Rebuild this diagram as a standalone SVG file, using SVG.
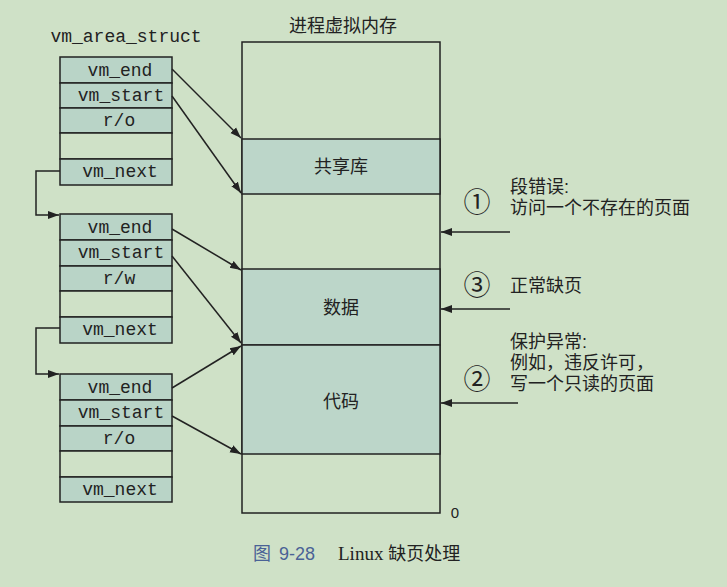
<svg xmlns="http://www.w3.org/2000/svg" width="727" height="587" viewBox="0 0 727 587">
<style>
.bg{fill:#cfe1c7}
.cell{fill:#b9d4c7;stroke:#222;stroke-width:1.5}
.empty{fill:#cfe1c7;stroke:#222;stroke-width:1.5}
.mem{fill:#cfe1c7;stroke:#222;stroke-width:1.5}
.memsh{fill:#bcd6c9;stroke:#222;stroke-width:1.5}
.mono{font-family:"Liberation Mono","DejaVu Sans Mono",monospace;font-size:18px;fill:#222;text-anchor:middle}
.cjk{font-family:"Liberation Sans","Noto Sans CJK SC",sans-serif;font-size:18px;fill:#222}
.num{font-family:"Noto Sans CJK SC",sans-serif;font-size:27px;fill:#222;text-anchor:middle}
.mid{text-anchor:middle}
.conn{fill:none;stroke:#222;stroke-width:1.5}
</style>
<defs>
<marker id="ah" viewBox="0 0 11 10" refX="11" refY="5" markerWidth="11" markerHeight="10" markerUnits="userSpaceOnUse" orient="auto">
<path d="M0,1 L11,5 L0,9 z" fill="#222"/>
</marker>
</defs>
<rect class="bg" x="0" y="0" width="727" height="587"/>

<text class="mono" x="126" y="42">vm_area_struct</text>

<g id="struct1">
<rect class="cell" x="60" y="57" width="112" height="26"/>
<rect class="cell" x="60" y="83" width="112" height="25"/>
<rect class="cell" x="60" y="108" width="112" height="25"/>
<rect class="empty" x="60" y="133" width="112" height="26"/>
<rect class="cell" x="60" y="159" width="112" height="26"/>
<text class="mono" x="120" y="76">vm_end</text>
<text class="mono" x="121" y="101">vm_start</text>
<text class="mono" x="119" y="126">r/o</text>
<text class="mono" x="120" y="177">vm_next</text>
</g>

<g id="struct2">
<rect class="cell" x="60" y="214" width="112" height="26"/>
<rect class="cell" x="60" y="240" width="112" height="26"/>
<rect class="cell" x="60" y="266" width="112" height="25"/>
<rect class="empty" x="60" y="291" width="112" height="26"/>
<rect class="cell" x="60" y="317" width="112" height="26"/>
<text class="mono" x="120" y="233">vm_end</text>
<text class="mono" x="121" y="258">vm_start</text>
<text class="mono" x="119" y="284">r/w</text>
<text class="mono" x="120" y="335">vm_next</text>
</g>

<g id="struct3">
<rect class="cell" x="60" y="374" width="112" height="26"/>
<rect class="cell" x="60" y="400" width="112" height="26"/>
<rect class="cell" x="60" y="426" width="112" height="25"/>
<rect class="empty" x="60" y="451" width="112" height="26"/>
<rect class="cell" x="60" y="477" width="112" height="25"/>
<text class="mono" x="120" y="393">vm_end</text>
<text class="mono" x="121" y="418">vm_start</text>
<text class="mono" x="119" y="444">r/o</text>
<text class="mono" x="120" y="495">vm_next</text>
</g>

<g id="memory">
<text class="cjk mid" x="343" y="32">进程虚拟内存</text>
<rect class="mem" x="242" y="42" width="198" height="471"/>
<rect class="memsh" x="242" y="139" width="198" height="55"/>
<rect class="memsh" x="242" y="269" width="198" height="76"/>
<rect class="memsh" x="242" y="345" width="198" height="109"/>
<text class="cjk mid" x="341" y="173">共享库</text>
<text class="cjk mid" x="341" y="314">数据</text>
<text class="cjk mid" x="341" y="408">代码</text>
<text x="455" y="518" style="font-family:'Liberation Sans',sans-serif;font-size:15px;fill:#222" text-anchor="middle">0</text>
</g>

<g id="annotations">
<text class="num" x="477" y="212">①</text>
<text class="num" x="477" y="295">③</text>
<text class="num" x="477" y="389">②</text>
<text class="cjk" x="510" y="193">段错误:</text>
<text class="cjk" x="510" y="214">访问一个不存在的页面</text>
<text class="cjk" x="510" y="292">正常缺页</text>
<text class="cjk" x="510" y="348">保护异常:</text>
<text class="cjk" x="510" y="369">例如，违反许可，</text>
<text class="cjk" x="510" y="390">写一个只读的页面</text>
</g>

<g id="connectors">
<line class="conn" x1="172" y1="69" x2="241" y2="138" marker-end="url(#ah)"/>
<line class="conn" x1="172" y1="96" x2="241" y2="193" marker-end="url(#ah)"/>
<line class="conn" x1="172" y1="229" x2="241" y2="270" marker-end="url(#ah)"/>
<line class="conn" x1="172" y1="256" x2="241" y2="343" marker-end="url(#ah)"/>
<line class="conn" x1="172" y1="388" x2="241" y2="346" marker-end="url(#ah)"/>
<line class="conn" x1="172" y1="416" x2="241" y2="454" marker-end="url(#ah)"/>
<polyline class="conn" points="60,171 36,171 36,215 59,215" marker-end="url(#ah)"/>
<polyline class="conn" points="60,328 36,328 36,374 59,374" marker-end="url(#ah)"/>
<line class="conn" x1="510" y1="232" x2="441" y2="232" marker-end="url(#ah)"/>
<line class="conn" x1="510" y1="309" x2="441" y2="309" marker-end="url(#ah)"/>
<line class="conn" x1="518" y1="403" x2="441" y2="403" marker-end="url(#ah)"/>
</g>

<g id="caption">
<text x="253" y="560" style="font-family:'Noto Sans CJK SC',sans-serif;font-size:18px;fill:#4a6296">图</text>
<text x="279" y="560" style="font-family:'Liberation Sans',sans-serif;font-size:18px;fill:#4a6296">9-28</text>
<text x="338" y="560" style="font-family:'Liberation Serif',serif;font-size:19px;fill:#222">Linux <tspan style="font-family:'Noto Sans CJK SC',sans-serif;font-size:18px">缺页处理</tspan></text>
</g>
</svg>
